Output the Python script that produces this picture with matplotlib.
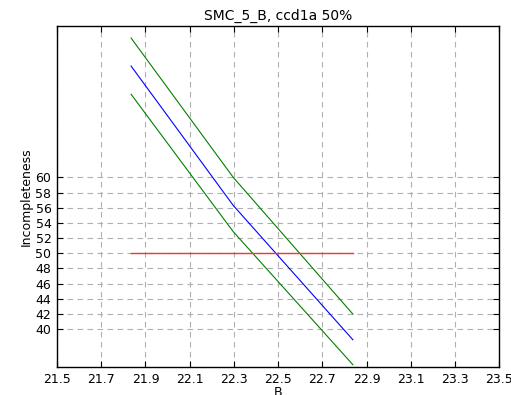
import matplotlib
matplotlib.use("Agg")
import matplotlib.pyplot as plt

mags = [21.835, 22.297, 22.838]
incompleteness = [74.68, 56.3, 38.59]
upper_bound = [78.37, 60.0, 41.97]
lower_bound = [70.96, 52.84, 35.3]
level_x = [21.835, 22.838]
level_y = [50, 50]
xticks = [21.5, 21.7, 21.9, 22.1, 22.3, 22.5, 22.7, 22.9, 23.1, 23.3, 23.5]
yticks = [40, 42, 44, 46, 48, 50, 52, 54, 56, 58, 60]

fig = plt.figure(figsize=(5.11, 3.95), dpi=100)
ax = fig.add_axes([57/511, 28/395, 442.3/511, 341.3/395])

ax.plot(mags, incompleteness, color='blue', lw=0.8)
ax.plot(mags, upper_bound, color='green', lw=0.8)
ax.plot(mags, lower_bound, color='green', lw=0.8)
ax.plot(level_x, level_y, color='#ff3030', lw=1.0)

ax.set_xlim(21.5, 23.5)
ax.set_ylim(35, 80)
ax.set_xticks(xticks)
ax.set_xticklabels([f"{t:.1f}" for t in xticks])
ax.set_yticks(yticks)
ax.grid(True, color='#b0b0b0', linestyle=(0, (5, 4)), lw=0.8)
ax.set_axisbelow(True)
ax.tick_params(direction='in', top=True, right=True, labelsize=9, length=4, pad=4)
for s in ax.spines.values():
    s.set_linewidth(1.0)
ax.set_title("SMC_5_B, ccd1a 50%", fontsize=10, pad=4)
ax.set_xlabel("B", fontsize=9, labelpad=0)
ax.set_ylabel("Incompleteness", fontsize=9, labelpad=2)

fig.savefig("out.png", dpi=100)
